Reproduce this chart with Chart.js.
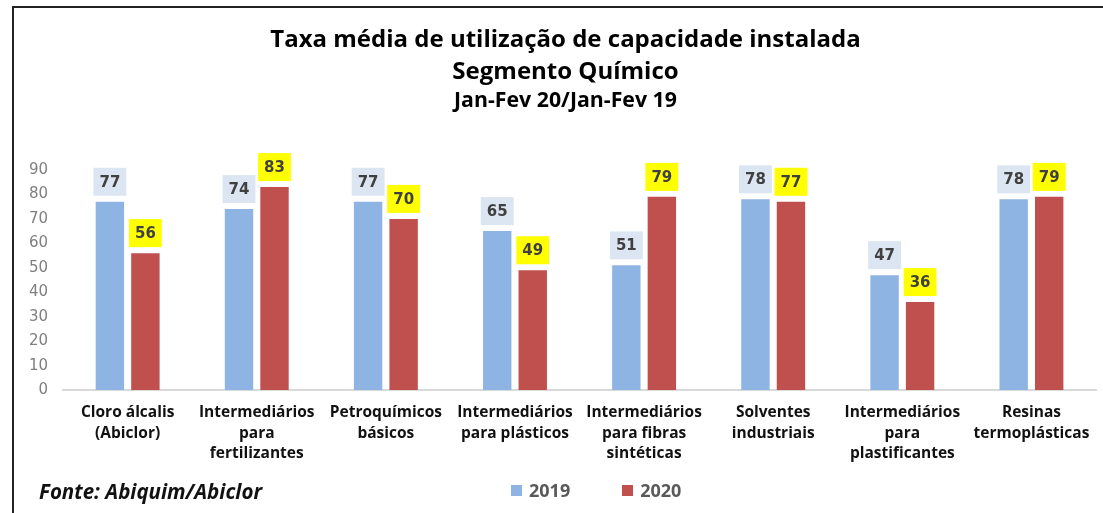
<!DOCTYPE html>
<html>
<head>
<meta charset="utf-8">
<title>Taxa média de utilização de capacidade instalada</title>
<script src="https://cdn.jsdelivr.net/npm/chart.js@4.4.1/dist/chart.umd.min.js"></script>
<style>
  html, body { margin:0; padding:0; background:#fff; width:1103px; height:513px; overflow:hidden; }
  #frame { position:absolute; left:12px; top:6px; width:1120px; height:520px; border-top:2px solid #222; border-left:2px solid #222; }
  #wrap { position:absolute; left:0; top:0; width:1109px; height:505px; }
  #fonte { position:absolute; left:25px; top:469px; font:italic bold 20.5px "Open Sans"; color:#111; white-space:nowrap; }
  #legend { position:absolute; left:497px; top:470px; display:flex; align-items:center; font:bold 18px "Open Sans"; color:#595959; }
  #legend .item { display:flex; align-items:center; margin-right:52px; }
  #legend .sw { width:11px; height:11px; margin-right:7px; }
</style>
</head>
<body>
<div id="frame">
  <div id="wrap"><canvas id="chart"></canvas></div>
  <div id="fonte">Fonte: Abiquim/Abiclor</div>
  <div id="legend"></div>
</div>
<script>
// data
const categories = [
  ['Cloro álcalis', '(Abiclor)'],
  ['Intermediários', 'para', 'fertilizantes'],
  ['Petroquímicos', 'básicos'],
  ['Intermediários', 'para plásticos'],
  ['Intermediários', 'para fibras', 'sintéticas'],
  ['Solventes', 'industriais'],
  ['Intermediários', 'para', 'plastificantes'],
  ['Resinas', 'termoplásticas']
];
const seriesNames = ['2019', '2020'];
const values2019 = [77, 74, 77, 65, 51, 78, 47, 78];
const values2020 = [56, 83, 70, 49, 79, 77, 36, 79];
const yMin = 0, yMax = 90, yStep = 10;

const titleLines = ['Taxa média de utilização de capacidade instalada', 'Segmento Químico'];
const subtitleText = 'Jan-Fev 20/Jan-Fev 19';

const barColors = ['#8EB4E3', '#C0504D'];
const labelBg = ['#DCE6F2', '#FFFF00'];

// value boxes above the bars
const valueBoxes = {
  id: 'valueBoxes',
  afterDatasetsDraw(chart){
    const ctx = chart.ctx;
    ctx.save();
    ctx.font = 'bold 15px "DejaVu Sans"';
    ctx.textAlign = 'center';
    ctx.textBaseline = 'middle';
    chart.data.datasets.forEach((ds, i) => {
      const meta = chart.getDatasetMeta(i);
      meta.data.forEach((bar, j) => {
        const txt = String(ds.data[j]);
        const w = ctx.measureText(txt).width + 12;
        const h = 28;
        const bottom = bar.y - 6;
        ctx.fillStyle = labelBg[i];
        ctx.fillRect(bar.x - w/2, bottom - h, w, h);
        ctx.fillStyle = '#404040';
        ctx.fillText(txt, bar.x, bottom - h/2 + 1);
      });
    });
    ctx.restore();
  }
};

const chart = new Chart(document.getElementById('chart'), {
  type: 'bar',
  data: {
    labels: categories,
    datasets: [
      { label: seriesNames[0], data: values2019, backgroundColor: barColors[0] },
      { label: seriesNames[1], data: values2020, backgroundColor: barColors[1] }
    ]
  },
  options: {
    responsive: true,
    maintainAspectRatio: false,
    animation: false,
    categoryPercentage: 0.55,
    barPercentage: 0.8,
    layout: { padding: { left: 0, right: 6, top: 0, bottom: 36.5 } },
    plugins: {
      legend: { display: false },
      tooltip: { enabled: false },
      title: {
        display: true,
        text: titleLines,
        color: '#000',
        font: { family: 'Open Sans', size: 24, weight: 'bold', lineHeight: 32/24 },
        padding: { top: 16, bottom: 0 }
      },
      subtitle: {
        display: true,
        text: subtitleText,
        color: '#000',
        font: { family: 'Open Sans', size: 21.3, weight: 'bold', lineHeight: 1.2 },
        padding: { top: 0, bottom: 56.4 }
      }
    },
    scales: {
      x: {
        grid: { display: false, drawTicks: false },
        border: { display: true, color: '#D9D9D9', width: 2 },
        ticks: {
          color: '#111',
          font: { family: 'Open Sans', size: 15.5, weight: 'bold', lineHeight: 1.32 },
          padding: 12.5,
          maxRotation: 0,
          autoSkip: false
        }
      },
      y: {
        min: yMin,
        max: yMax,
        grid: { display: false, drawTicks: false },
        border: { display: false },
        ticks: {
          stepSize: yStep,
          color: '#7F7F7F',
          font: { family: 'DejaVu Sans', size: 15 },
          padding: 15
        }
      },
      // empty right-hand spacer so the title sits centred like the original
      ySpacer: {
        type: 'linear',
        axis: 'y',
        position: 'right',
        min: yMin,
        max: yMax,
        grid: { display: false, drawTicks: false },
        border: { display: false },
        ticks: { display: false },
        afterFit(scale){ scale.width = 21; }
      }
    }
  },
  plugins: [valueBoxes]
});

// legend built from the chart's datasets
const legendEl = document.getElementById('legend');
chart.data.datasets.forEach(ds => {
  const item = document.createElement('div');
  item.className = 'item';
  item.innerHTML = `<span class="sw" style="background:${ds.backgroundColor}"></span><span>${ds.label}</span>`;
  legendEl.appendChild(item);
});
</script>
</body>
</html>
